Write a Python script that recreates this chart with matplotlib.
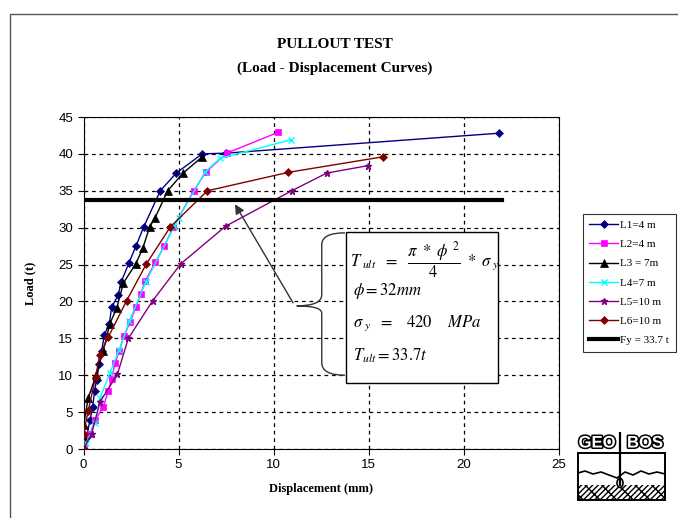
import matplotlib
matplotlib.use('Agg')
import matplotlib.pyplot as plt
import matplotlib.patches as mpatches
import matplotlib.patheffects as pe
from matplotlib.path import Path

plt.rcParams['mathtext.fontset'] = 'stix'

# data (displacement mm, load t)
l1_x = [0, 0.15, 0.34, 0.48, 0.58, 0.69, 0.83, 0.96, 1.09, 1.36, 1.48, 1.83, 1.99, 2.39, 2.76, 3.17, 4.04, 4.88, 6.25, 7.5, 21.85]
l1_y = [0, 1.5, 3.9, 5.7, 7.8, 9.4, 11.5, 13.3, 15.4, 17.0, 19.2, 20.9, 22.7, 25.2, 27.5, 30.1, 35.0, 37.4, 40.0, 40.1, 42.8]

l2_x = [0, 0.03, 0.34, 0.6, 1.04, 1.3, 1.48, 1.66, 1.88, 2.13, 2.45, 2.75, 3.01, 3.25, 3.78, 4.25, 4.73, 5.8, 6.43, 7.54, 10.22]
l2_y = [0, 0.8, 2.0, 3.9, 5.7, 7.8, 9.5, 11.6, 13.3, 15.3, 17.2, 19.2, 21.0, 22.8, 25.3, 27.5, 30.1, 35.0, 37.5, 40.1, 42.9]

l3_x = [0, 0, 0, 0.25, 0.66, 1.04, 1.39, 1.75, 2.1, 2.75, 3.12, 3.48, 3.76, 4.43, 5.24, 6.25]
l3_y = [0, 1.5, 3.2, 6.9, 10.0, 13.3, 17.0, 19.1, 22.5, 25.1, 27.2, 30.1, 31.3, 35.0, 37.4, 39.6]

l4_x = [0, 0.15, 0.6, 0.87, 1.39, 1.88, 2.41, 3.29, 4.78, 5.0, 6.39, 7.18, 10.92]
l4_y = [0, 0.8, 3.5, 6.9, 10.3, 13.4, 17.3, 22.7, 30.2, 31.3, 37.5, 39.4, 41.9]

l5_x = [0, 0.43, 0.87, 1.78, 2.36, 3.64, 5.12, 7.48, 10.96, 12.8, 14.96]
l5_y = [0, 2.1, 6.4, 10.1, 15.0, 20.1, 25.1, 30.2, 35.0, 37.4, 38.4]

l6_x = [0, 0, 0.25, 0.64, 0.85, 1.31, 2.27, 3.31, 4.57, 6.52, 10.78, 15.75]
l6_y = [0, 2.1, 5.2, 9.8, 12.7, 15.2, 20.1, 25.1, 30.1, 35.0, 37.5, 39.6]

fy_x = [0, 22]
fy_y = [33.7, 33.7]

series = [
    ('L1=4 m', l1_x, l1_y, '#000080', 'D', 4),
    ('L2=4 m', l2_x, l2_y, '#FF00FF', 's', 5),
    ('L3 = 7m', l3_x, l3_y, '#000000', '^', 6),
    ('L4=7 m', l4_x, l4_y, '#00FFFF', 'x', 5),
    ('L5=10 m', l5_x, l5_y, '#800080', '*', 4.5),
    ('L6=10 m', l6_x, l6_y, '#800000', 'D', 4),
]

fig = plt.figure(figsize=(6.78, 5.18), dpi=100)

# outer chart border (cut at right and bottom like the reference)
fig.patches.append(mpatches.Rectangle((10 / 678, -0.1), 1.2, 1.1 - 14 / 518,
                                      transform=fig.transFigure, fill=False,
                                      edgecolor='#555555', lw=1))

ax = fig.add_axes([83.5 / 678, 1 - 449 / 518, 475 / 678, 332 / 518])

for name, x, y, c, m, ms in series:
    ax.plot(x, y, color=c, marker=m, markersize=ms, lw=1, label=name,
            markeredgewidth=1 if m in 'x*' else 0.5, zorder=3)
ax.plot(fy_x, fy_y, color='black', lw=3, label='Fy = 33.7 t', zorder=3)

ax.set_xlim(0, 25)
ax.set_ylim(0, 45)
ax.set_xticks(range(0, 26, 5))
ax.set_yticks(range(0, 46, 5))
ax.grid(True, color='black', linestyle=(0, (3, 3)), lw=0.9)
ax.tick_params(labelsize=9.5, direction='out', length=4, color='black')
for lab in ax.get_xticklabels() + ax.get_yticklabels():
    lab.set_fontfamily('Liberation Sans')
for s in ax.spines.values():
    s.set_color('black')

ax.set_xlabel('Displacement (mm)', fontfamily='Liberation Serif', fontweight='bold', fontsize=9, labelpad=8)
ax.set_ylabel('Load (t)', fontfamily='Liberation Serif', fontweight='bold', fontsize=9, labelpad=16)

fig.text(335 / 678, 1 - 45 / 518, 'PULLOUT TEST', ha='center', va='center',
         fontfamily='Liberation Serif', fontweight='bold', fontsize=11)
fig.text(335 / 678, 1 - 68 / 518, '(Load - Displacement Curves)', ha='center', va='center',
         fontfamily='Liberation Serif', fontweight='bold', fontsize=11)

# equation box
box = mpatches.Rectangle((13.8, 9.0), 8.0, 20.4, facecolor='white', edgecolor='black', lw=1, zorder=5)
ax.add_patch(box)
ax.text(14.05, 25.5, r'$T_{\ ult}\ \ =\ \ \dfrac{\pi\ *\ \phi^{\ 2}}{4}\ *\ \sigma_{\ y}$',
        fontsize=12, va='center', ha='left', zorder=6)
ax.text(14.2, 21.4, r'$\phi = 32mm$', fontsize=12, va='center', ha='left', zorder=6)
ax.text(14.2, 17.1, r'$\sigma_{\ y}\ \ =\ \ \ 420\ \ \ \ MPa$', fontsize=12, va='center', ha='left', zorder=6)
ax.text(14.2, 12.6, r'$T_{ult} = 33.7t$', fontsize=12, va='center', ha='left', zorder=6)

# curly brace next to the box
verts = [(13.76, 29.3), (12.54, 29.3), (12.54, 27.7), (12.54, 20.9),
         (12.54, 19.4), (11.22, 19.4), (12.54, 19.4), (12.54, 18.4),
         (12.54, 11.7), (12.54, 10.0), (13.76, 10.0)]
codes = [Path.MOVETO, Path.CURVE3, Path.CURVE3, Path.LINETO,
         Path.CURVE3, Path.CURVE3, Path.CURVE3, Path.CURVE3,
         Path.LINETO, Path.CURVE3, Path.CURVE3]
ax.add_patch(mpatches.PathPatch(Path(verts, codes), fill=False, edgecolor='#333333', lw=1, zorder=5))

ax.annotate('', xy=(7.9, 33.5), xytext=(11.1, 19.5),
            arrowprops=dict(arrowstyle='-|>', color='#333333', lw=1, mutation_scale=14), zorder=6)

leg = ax.legend(loc='upper left', bbox_to_anchor=(577 / 678, 1 - 208 / 518),
                bbox_transform=fig.transFigure, frameon=True, fancybox=False,
                edgecolor='black', prop={'family': 'Liberation Serif', 'size': 8},
                handlelength=2.6, labelspacing=0.85, borderpad=0.6, handletextpad=0.2)
leg.get_frame().set_linewidth(0.8)

# GEOBOS logo
lg = fig.add_axes([575 / 678, 1 - 505 / 518, 93 / 678, 73 / 518])
lg.set_xlim(0, 93)
lg.set_ylim(0, 73)
lg.axis('off')
for txt, xx in [('GEO', 22), ('BOS', 70)]:
    lg.text(xx, 62, txt, ha='center', va='center', fontsize=12, fontweight='bold',
            fontfamily='Liberation Sans', color='white',
            path_effects=[pe.withStroke(linewidth=2.2, foreground='black')])
lg.plot([45, 45], [52, 72], color='black', lw=1.6)
lg.add_patch(mpatches.Rectangle((3, 5), 87, 47, fill=False, edgecolor='black', lw=1.4))
lg.add_patch(mpatches.Rectangle((3, 5), 87, 15, fill=False, edgecolor='black', lw=0,
                                hatch='xx////'))
lg.plot([3, 10, 18, 26, 34, 42, 50, 58, 66, 74, 82, 90],
        [32, 34, 31, 33, 30, 27, 33, 30, 34, 31, 33, 31], color='black', lw=1.2)
lg.plot([45, 45], [52, 20], color='black', lw=1.6)
lg.add_patch(mpatches.Ellipse((45, 22), 6, 9, facecolor='white', edgecolor='black', lw=1.2))

fig.savefig('out.png', dpi=100)
